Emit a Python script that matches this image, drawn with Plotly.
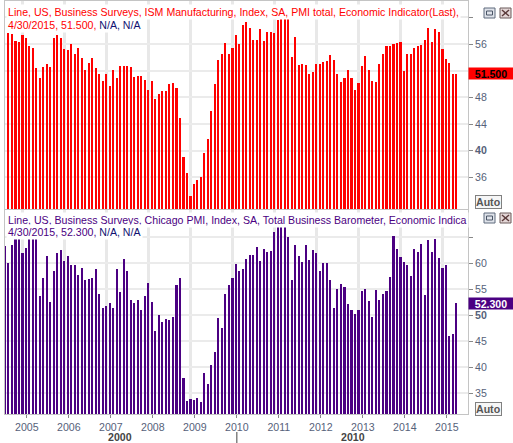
import plotly.graph_objects as go
import pandas as pd

# ---------------- data ----------------
ism_first_month = "2004-08"
ism_values = [
    57.7, 57.5, 56.45, 56.3, 57.35, 56.9, 55.7, 55.4, 52.4, 50.9, 52.55, 53.0, 52.55,
    56.9, 57.35, 56.9, 55.25, 55.1, 56.0, 54.5, 55.4, 53.9, 52.1, 53.15, 53.9, 52.4,
    51.5, 50.45, 51.5, 49.7, 52.1, 50.9, 52.7, 52.7, 52.7, 52.55, 51.05, 51.2, 51.2,
    50.6, 49.1, 50.45, 47.75, 48.5, 48.95, 48.95, 50.0, 50.15, 49.4, 44.9, 39.05, 36.65,
    33.2, 35.0, 35.6, 36.05, 39.65, 41.75, 45.95, 50.0, 53.6, 54.5, 56.15, 54.5, 55.4,
    57.35, 56.0, 58.8, 59.3, 58.4, 56.6, 56.6, 58.3, 56.45, 57.8, 57.8, 57.65, 59.6,
    60.5, 61.0, 59.8, 54.05, 57.05, 52.85, 53.0, 52.85, 51.5, 51.8, 53.0, 53.0, 53.3,
    53.45, 54.35, 53.6, 51.5, 50.3, 50.9, 52.1, 50.9, 49.1, 50.15, 52.7, 54.2, 52.1,
    50.45, 50.3, 53.0, 54.5, 55.7, 55.7, 56.0, 56.15, 56.3, 51.95, 54.5, 54.5, 55.4,
    55.7, 55.85, 56.6, 58.4, 56.3, 58.2, 57.8, 55.25, 53.7, 53.1, 51.5, 51.5,
]
chi_first_month = "2004-07"
chi_values = [
    63.4, 60.1, 63.6, 66.5, 68.0, 62.0, 62.95, 65.5, 67.0, 66.0, 53.7, 57.2, 61.4,
    52.6, 58.5, 62.0, 62.6, 60.45, 61.4, 59.7, 59.7, 57.75, 59.1, 56.8, 57.0, 57.2,
    58.9, 54.1, 51.4, 51.8, 52.4, 51.4, 58.9, 54.5, 60.8, 58.5, 52.95, 52.4, 52.95,
    51.0, 53.7, 56.2, 52.6, 47.0, 50.1, 48.7, 49.3, 49.1, 49.7, 55.8, 57.2, 37.95,
    33.5, 33.9, 33.7, 34.1, 33.3, 38.9, 36.8, 40.45, 42.9, 49.5, 47.6, 54.1, 55.8,
    57.2, 59.9, 58.5, 58.9, 60.8, 61.6, 61.6, 63.1, 60.45, 62.8, 62.2, 62.4, 66.0,
    68.5, 67.5, 69.5, 65.1, 56.8, 63.5, 61.4, 60.3, 63.5, 60.6, 62.6, 62.0, 58.5,
    60.1, 60.1, 56.8, 51.4, 55.1, 56.0, 55.4, 52.2, 51.0, 50.3, 51.0, 54.7, 55.1,
    52.75, 49.7, 54.9, 52.95, 54.1, 54.7, 57.4, 65.3, 62.8, 61.2, 60.3, 59.7, 57.6,
    62.8, 62.2, 63.7, 53.9, 64.5, 62.2, 64.7, 61.0, 59.0, 59.7, 45.9, 46.4, 52.3,
]
years = [2005, 2006, 2007, 2008, 2009, 2010, 2011, 2012, 2013, 2014, 2015]
decades = ["2000", "2010"]
ism_title = "Line, US, Business Surveys, ISM Manufacturing, Index, SA, PMI total, Economic Indicator(Last),"
chi_title = "Line, US, Business Surveys, Chicago PMI, Index, SA, Total Business Barometer, Economic Indica"
ism_last = "4/30/2015, 51.500,"
chi_last = "4/30/2015, 52.300,"
na_text = "N/A, N/A"
ism_ticks = [36, 40, 44, 48, 52, 56, 60]
ism_ticktext = ["36", "<b>40</b>", "44", "48", "", "56", ""]
chi_ticks = [35, 40, 45, 50, 55, 60, 65]
chi_ticktext = ["35", "40", "45", "<b>50</b>", "55", "60", ""]

ism_dates = pd.date_range(ism_first_month + "-01", periods=len(ism_values), freq="MS") + pd.offsets.MonthEnd(0)
chi_dates = pd.date_range(chi_first_month + "-01", periods=len(chi_values), freq="MS") + pd.offsets.MonthEnd(0)

# ---------------- layout helpers ----------------
W, H = 513, 443
PL, PR, PT, PB = 5, 468, 1, 414


def px2x(px):
    return (px - PL) / (PR - PL)


def py2y(py):
    return (PB - py) / (PB - PT)


RED = "#ff0000"
PURPLE = "#4b0082"
NAVY = "#101070"
LBL = "#56627a"
FONT = "Liberation Sans, Arial, sans-serif"
FS = 10.6
BARW = 18 * 86400000

fig = go.Figure()
fig.add_trace(go.Bar(x=ism_dates, y=ism_values, marker_color=RED, marker_line_width=0,
                     width=BARW, xaxis="x", yaxis="y", showlegend=False))
fig.add_trace(go.Bar(x=chi_dates, y=chi_values, marker_color=PURPLE, marker_line_width=0,
                     width=BARW, xaxis="x2", yaxis="y2", showlegend=False))

xrange = ["2004-08-01", "2015-08-10"]
minor_vals = [f"{y}-01-01" for y in years]
major_vals = [f"{y}-02-07" for y in years]

common_x = dict(type="date", range=xrange, showgrid=False, showline=True, mirror=True,
                linecolor="#c4c4c4", linewidth=1, zeroline=False,
                minor=dict(tickvals=minor_vals, showgrid=True, gridcolor="#e8e8e8",
                           gridwidth=3, ticks=""))

top_dom = [py2y(209), 1]
bot_dom = [0, py2y(210)]

fig.update_layout(
    width=W, height=H,
    margin=dict(l=PL, r=W - PR, t=PT, b=H - PB, pad=0),
    paper_bgcolor="white", plot_bgcolor="white",
    font=dict(family=FONT, size=FS, color=LBL),
    bargap=0,
    xaxis=dict(**common_x, anchor="y", showticklabels=False, ticks="",
               tickvals=major_vals, ticktext=[str(y) for y in years]),
    xaxis2=dict(**common_x, anchor="y2", matches="x", showticklabels=True,
                ticks="outside", ticklen=3, tickcolor="#888888",
                tickvals=major_vals, ticktext=[str(y) for y in years],
                tickfont=dict(family=FONT, size=FS, color=LBL)),
    yaxis=dict(domain=top_dom, range=[31.25, 62.45], side="right", anchor="x",
               tickmode="array", tickvals=ism_ticks, ticktext=ism_ticktext,
               ticks="outside", ticklen=4, tickcolor="#888888",
               showgrid=True, gridcolor="#ebebeb", gridwidth=1.5,
               showline=True, mirror=True, linecolor="#c4c4c4", linewidth=1,
               zeroline=False, tickfont=dict(family=FONT, size=FS, color=LBL)),
    yaxis2=dict(domain=bot_dom, range=[30.96, 70.25], side="right", anchor="x2",
                tickmode="array", tickvals=chi_ticks, ticktext=chi_ticktext,
                ticks="outside", ticklen=4, tickcolor="#888888",
                showgrid=True, gridcolor="#ebebeb", gridwidth=1.5,
                showline=True, mirror=True, linecolor="#c4c4c4", linewidth=1,
                zeroline=False, tickfont=dict(family=FONT, size=FS, color=LBL)),
)

ann = []


def header(text, py, color):
    ann.append(dict(xref="paper", yref="paper", x=px2x(6), y=py2y(py), xanchor="left",
                    yanchor="middle", text=text, showarrow=False, bgcolor="white",
                    borderpad=1, font=dict(family=FONT, size=FS, color=color)))


header(ism_title, 12, RED)
header(f"{ism_last} <span style='color:{NAVY}'>{na_text}</span>", 25, RED)
header(chi_title, 220, PURPLE)
header(f"{chi_last} <span style='color:{NAVY}'>{na_text}</span>", 232, PURPLE)

# last value boxes
ann.append(dict(xref="paper", yref="paper", x=1.0, y=py2y(73), xanchor="left", yanchor="middle",
                text="<b>51.500</b>", showarrow=False, bgcolor=RED, width=44, height=11,
                borderpad=0, font=dict(family=FONT, size=FS, color="black")))
ann.append(dict(xref="paper", yref="paper", x=1.0, y=py2y(303), xanchor="left", yanchor="middle",
                text="<b>52.300</b>", showarrow=False, bgcolor=PURPLE, width=44, height=11,
                borderpad=0, font=dict(family=FONT, size=FS, color="white")))

# Auto boxes
for py in (202, 409):
    ann.append(dict(xref="paper", yref="paper", x=px2x(489), y=py2y(py), xanchor="center",
                    yanchor="middle", text="<b>Auto</b>", showarrow=False, bgcolor="#f6f6f6",
                    bordercolor="#808080", borderwidth=1, borderpad=0,
                    font=dict(family=FONT, size=FS, color="#555555")))

# decade labels
ann.append(dict(xref="paper", yref="paper", x=px2x(120), y=py2y(436.5), xanchor="center",
                yanchor="middle", text=f"<b>{decades[0]}</b>", showarrow=False,
                font=dict(family=FONT, size=FS, color="#444444")))
ann.append(dict(xref="paper", yref="paper", x=px2x(353), y=py2y(436.5), xanchor="center",
                yanchor="middle", text=f"<b>{decades[1]}</b>", showarrow=False,
                font=dict(family=FONT, size=FS, color="#444444")))

fig.update_layout(annotations=ann)

shapes = []
# decade separator
shapes.append(dict(type="line", xref="x2", yref="paper", x0="2010-02-07", x1="2010-02-07",
                   y0=py2y(432), y1=py2y(443), line=dict(color="#444444", width=1)))
# window buttons
for top in (8, 213):
    shapes.append(dict(type="rect", xref="paper", yref="paper", x0=px2x(484), x1=px2x(495),
                       y0=py2y(top + 10), y1=py2y(top), fillcolor="#dfe3ea",
                       line=dict(color="#5f6b7d", width=1)))
    shapes.append(dict(type="rect", xref="paper", yref="paper", x0=px2x(486.5), x1=px2x(492.5),
                       y0=py2y(top + 7), y1=py2y(top + 3), fillcolor="rgba(0,0,0,0)",
                       line=dict(color="#4a5566", width=1)))
    shapes.append(dict(type="rect", xref="paper", yref="paper", x0=px2x(500), x1=px2x(511),
                       y0=py2y(top + 10), y1=py2y(top), fillcolor="#e3d6d6",
                       line=dict(color="#6b5a5a", width=1)))
    shapes.append(dict(type="line", xref="paper", yref="paper", x0=px2x(502), x1=px2x(509),
                       y0=py2y(top + 2), y1=py2y(top + 8), line=dict(color="#5a3a3a", width=1.5)))
    shapes.append(dict(type="line", xref="paper", yref="paper", x0=px2x(502), x1=px2x(509),
                       y0=py2y(top + 8), y1=py2y(top + 2), line=dict(color="#5a3a3a", width=1.5)))
fig.update_layout(shapes=shapes)

fig.write_html("out.html")
